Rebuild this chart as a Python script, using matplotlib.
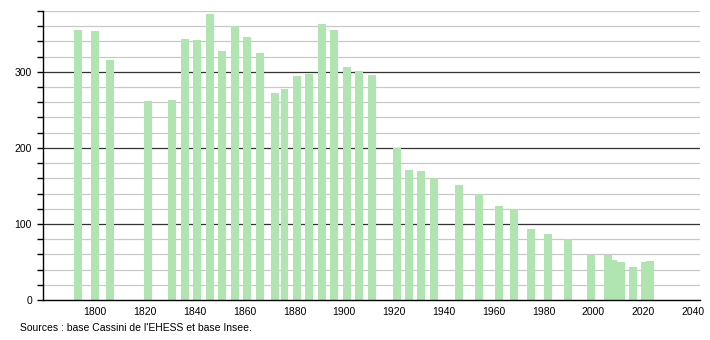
import matplotlib
matplotlib.use("Agg")
import matplotlib.pyplot as plt
from matplotlib.ticker import MultipleLocator

plt.rcParams['font.family'] = ['Liberation Sans', 'DejaVu Sans']

years = [1793, 1800, 1806, 1821, 1831, 1836, 1841, 1846, 1851, 1856, 1861, 1866,
         1872, 1876, 1881, 1886, 1891, 1896, 1901, 1906, 1911, 1921, 1926, 1931,
         1936, 1946, 1954, 1962, 1968, 1975, 1982, 1990, 1999, 2006, 2008, 2011,
         2016, 2021, 2023]
population = [355, 354, 316, 262, 263, 343, 342, 376, 327, 360, 346, 325,
              272, 277, 295, 297, 363, 355, 306, 301, 296, 200, 171, 170,
              160, 151, 139, 124, 119, 93, 87, 80, 59, 59, 52, 50,
              44, 50, 51]
xticks = [1800, 1820, 1840, 1860, 1880, 1900, 1920, 1940, 1960, 1980, 2000, 2020, 2040]
source = "Sources : base Cassini de l'EHESS et base Insee."

fig = plt.figure(figsize=(7.1, 3.4), dpi=100)
ax = fig.add_axes([43/710, 1-300/340, (700-43)/710, (300-11)/340])

ax.set_xlim(1779, 2042.9)
ax.set_ylim(0, 380)

# gridlines
for v in range(20, 381, 20):
    if v % 100 == 0:
        ax.axhline(v, color='#333333', lw=0.9, zorder=1)
    else:
        ax.axhline(v, color='#c8c8c8', lw=0.9, zorder=1)

ax.bar(years, population, width=3.2, color='#b0e4b0', zorder=2, linewidth=0)

for s in ['top', 'right']:
    ax.spines[s].set_visible(False)
ax.spines['left'].set_color('black')
ax.spines['bottom'].set_color('black')
ax.spines['left'].set_linewidth(1)
ax.spines['bottom'].set_linewidth(1)

ax.yaxis.set_major_locator(MultipleLocator(100))
ax.yaxis.set_minor_locator(MultipleLocator(20))
ax.tick_params(axis='y', which='both', length=4, width=1, color='black',
               labelsize=7.5, pad=4)
ax.set_xticks(xticks)
ax.set_xticklabels([str(t) for t in xticks])
ax.tick_params(axis='x', length=0, labelsize=7.5, pad=5)

fig.text(20/710, 1-328/340, source, fontsize=7.5, va='center', ha='left')

fig.savefig('out.png', dpi=100)
